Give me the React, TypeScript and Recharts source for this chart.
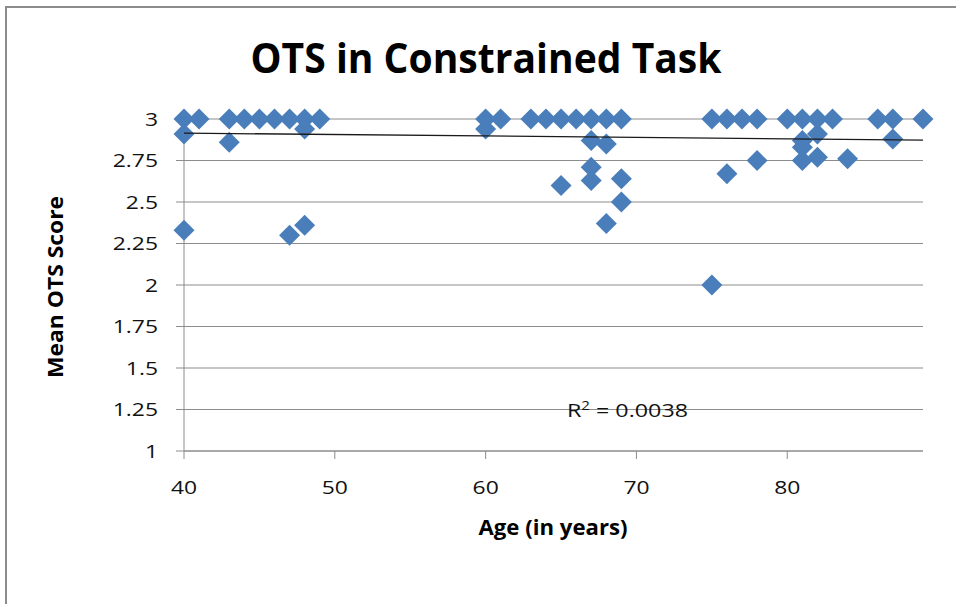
import React from 'react'
import {
  ScatterChart,
  Scatter,
  XAxis,
  YAxis,
  CartesianGrid,
} from 'recharts'

// age (years) and mean OTS score for each participant
const ages = [
  40, 40, 40, 41, 43, 43, 44, 45, 46, 47, 47, 48, 48, 48, 49,
  60, 60, 61, 63, 64, 65, 65, 66, 67, 67, 67, 67, 68, 68, 68, 69, 69, 69,
  75, 75, 76, 76, 77, 78, 78, 80, 81, 81, 81, 81, 82, 82, 82, 83, 84, 86, 87, 87, 89,
]
const scores = [
  3, 2.91, 2.33, 3, 3, 2.86, 3, 3, 3, 3, 2.3, 3, 2.94, 2.36, 3,
  3, 2.94, 3, 3, 3, 3, 2.6, 3, 3, 2.87, 2.71, 2.63, 3, 2.85, 2.37, 3, 2.64, 2.5,
  3, 2, 3, 2.67, 3, 3, 2.75, 3, 3, 2.87, 2.83, 2.75, 3, 2.91, 2.77, 3, 2.76, 3, 3, 2.88, 3,
]

// linear trendline end points
const trendAges = [40, 89]
const trendScores = [2.915, 2.873]

const xTicks = [40, 50, 60, 70, 80]
const yTicks = [1, 1.25, 1.5, 1.75, 2, 2.25, 2.5, 2.75, 3]

const points = ages.map((age, i) => ({ age, score: scores[i] }))
const trend = trendAges.map((age, i) => ({ age, score: trendScores[i] }))

const FONT = "'Open Sans', 'Noto Sans', sans-serif"
const GRID = '#8c8c8c'
const BLUE = '#4a7ebb'

function Diamond(props: any) {
  const { cx, cy } = props
  if (cx == null || cy == null) return <g />
  const r = 10.5
  return (
    <polygon
      points={`${cx},${cy - r} ${cx + r},${cy} ${cx},${cy + r} ${cx - r},${cy}`}
      fill={BLUE}
    />
  )
}

function YTick(props: any) {
  const { x, y, payload } = props
  return (
    <text
      transform={`translate(${x},${y + 6.5}) scale(1.23,1)`}
      textAnchor="end"
      fontSize={18.6}
      fontFamily={FONT}
      fill="#111"
    >
      {payload.value}
    </text>
  )
}

function XTick(props: any) {
  const { x, y, payload } = props
  return (
    <text
      transform={`translate(${x},${y + 35}) scale(1.23,1)`}
      textAnchor="middle"
      fontSize={18.6}
      fontFamily={FONT}
      fill="#111"
    >
      {payload.value}
    </text>
  )
}

export default function App() {
  return (
    <div style={{ position: 'absolute', left: 0, top: 0, width: 956, height: 604, overflow: 'hidden', background: '#fff' }}>
      <div
        style={{
          position: 'absolute',
          left: 5,
          top: 6,
          width: 1200,
          height: 1200,
          borderTop: `2px solid ${GRID}`,
          borderLeft: `2px solid ${GRID}`,
        }}
      />
      <ScatterChart
        width={956}
        height={604}
        margin={{ top: 119, right: 33, bottom: 0, left: 0 }}
        style={{ position: 'absolute', left: 0, top: 0 }}
      >
        <CartesianGrid vertical={false} stroke={GRID} strokeWidth={1} />
        <XAxis
          type="number"
          dataKey="age"
          domain={[40, 89]}
          ticks={xTicks}
          height={153}
          tickSize={8}
          tickMargin={0}
          stroke={GRID}
          tick={<XTick />}
        />
        <YAxis
          type="number"
          dataKey="score"
          domain={[1, 3]}
          ticks={yTicks}
          width={184}
          tickSize={8}
          tickMargin={18}
          stroke={GRID}
          tick={<YTick />}
        />
        <Scatter data={points} shape={<Diamond />} isAnimationActive={false} />
        <Scatter
          data={trend}
          line={{ stroke: '#1a1a1a', strokeWidth: 1.3 }}
          lineType="joint"
          shape={() => <g />}
          isAnimationActive={false}
        />
      </ScatterChart>
      <svg
        width={956}
        height={604}
        style={{ position: 'absolute', left: 0, top: 0, pointerEvents: 'none' }}
      >
        <text
          x={486}
          y={73}
          textAnchor="middle"
          fontFamily={FONT}
          fontWeight={700}
          fontSize={42}
          textLength={471}
          lengthAdjust="spacingAndGlyphs"
          fill="#000"
        >
          OTS in Constrained Task
        </text>
        <text
          transform="translate(63,287) rotate(-90)"
          textAnchor="middle"
          fontFamily={FONT}
          fontWeight={700}
          fontSize={21}
          textLength={182}
          lengthAdjust="spacingAndGlyphs"
          fill="#000"
        >
          Mean OTS Score
        </text>
        <text
          x={553}
          y={535}
          textAnchor="middle"
          fontFamily={FONT}
          fontWeight={700}
          fontSize={21}
          textLength={149}
          lengthAdjust="spacingAndGlyphs"
          fill="#000"
        >
          Age (in years)
        </text>
        <text
          x={567}
          y={417}
          fontFamily={FONT}
          fontSize={18.6}
          textLength={121}
          lengthAdjust="spacingAndGlyphs"
          fill="#111"
        >
          R<tspan dy={-7} fontSize={12}>2</tspan><tspan dy={7}> = 0.0038</tspan>
        </text>
      </svg>
    </div>
  )
}
